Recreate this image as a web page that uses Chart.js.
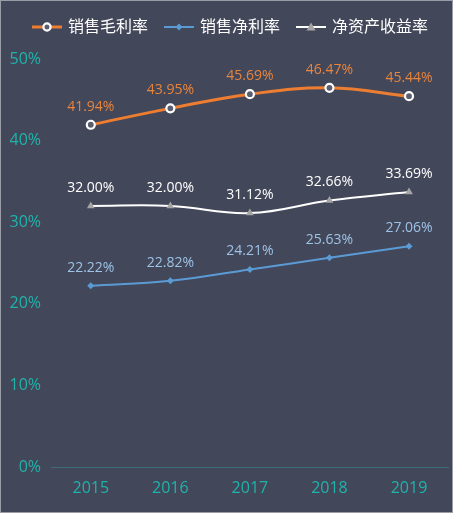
<!DOCTYPE html>
<html><head><meta charset="utf-8">
<script src="https://cdn.jsdelivr.net/npm/chart.js@4"></script>
<style>html,body{margin:0;padding:0;background:#fff;}#wrap{width:455px;height:522px;}</style>
</head><body><div id="wrap"><canvas id="c" width="455" height="522"></canvas></div>
<script>
const categories = ['2015','2016','2017','2018','2019'];
const grossMargin = [41.94, 43.95, 45.69, 46.47, 45.44];
const netMargin = [22.22, 22.82, 24.21, 25.63, 27.06];
const roe = [32.00, 32.00, 31.12, 32.66, 33.69];
const seriesNames = ['销售毛利率','销售净利率','净资产收益率'];
const yTicks = [0,10,20,30,40,50];

const BG = '#43475a';
const TEAL = '#1fb3aa';
const FONT = "'Open Sans','Noto Sans CJK SC',sans-serif";

function legendIcon(color, kind){
  const c = document.createElement('canvas'); c.width = 48; c.height = 12;
  const x = c.getContext('2d');
  const x0 = 14, x1 = 44, cx = 29;
  x.strokeStyle = color; x.lineWidth = kind==='circle'?3:2;
  x.beginPath(); x.moveTo(x0,6); x.lineTo(x1,6); x.stroke();
  if(kind==='circle'){ x.fillStyle='#5a5d6e'; x.strokeStyle='#fff'; x.lineWidth=2.2; x.beginPath(); x.arc(cx,6,3.6,0,Math.PI*2); x.fill(); x.stroke(); }
  if(kind==='diamond'){ x.fillStyle='#5b9bd5'; x.beginPath(); x.moveTo(cx,2.5); x.lineTo(cx+3.5,6); x.lineTo(cx,9.5); x.lineTo(cx-3.5,6); x.closePath(); x.fill(); }
  if(kind==='tri'){ x.fillStyle='#a5a5a5'; x.beginPath(); x.moveTo(cx,1.5); x.lineTo(cx+4.5,9.5); x.lineTo(cx-4.5,9.5); x.closePath(); x.fill(); }
  return c;
}
const icons = [legendIcon('#ed7d31','circle'), legendIcon('#5b9bd5','diamond'), legendIcon('#ffffff','tri')];
const labelColors = ['#e8853d','#9dc3e6','#ffffff'];

const bgPlugin = {
  id:'bg',
  beforeUpdate(chart){
    const lg = chart.legend;
    if(lg && !lg._patched){
      const orig = lg.fit.bind(lg);
      lg.fit = function(){ orig(); this.height = 48; };
      lg._patched = true;
    }
  },
  beforeDraw(chart){
    const ctx = chart.ctx; ctx.save();
    ctx.fillStyle = BG; ctx.fillRect(0,0,453,513);
    ctx.strokeStyle = '#9a9ca6'; ctx.lineWidth = 1; ctx.strokeRect(0.5,0.5,452,512);
    ctx.restore();
  }
};
const labelPlugin = {
  id:'vals',
  afterDatasetsDraw(chart){
    const ctx = chart.ctx; ctx.save();
    ctx.font = '14px ' + FONT; ctx.textAlign='center'; ctx.textBaseline='bottom';
    chart.data.datasets.forEach((ds,i)=>{
      const meta = chart.getDatasetMeta(i);
      ctx.fillStyle = labelColors[i];
      meta.data.forEach((pt,j)=>{
        ctx.fillText(ds.data[j].toFixed(2)+'%', pt.x, pt.y - 11);
      });
    });
    ctx.restore();
  }
};

new Chart(document.getElementById('c'), {
  type:'line',
  data:{
    labels: categories,
    datasets:[
      {label:seriesNames[0], data:grossMargin, borderColor:'#ed7d31', borderWidth:3, tension:0.4,
       pointStyle:'circle', pointRadius:4, pointBorderWidth:2.2, pointBorderColor:'#ffffff', pointBackgroundColor:'#5a5d6e'},
      {label:seriesNames[1], data:netMargin, borderColor:'#5b9bd5', borderWidth:2, tension:0.4,
       pointStyle:'rectRot', pointRadius:3.5, pointBorderWidth:0, pointBackgroundColor:'#5b9bd5'},
      {label:seriesNames[2], data:roe, borderColor:'#ffffff', borderWidth:2, tension:0.4,
       pointStyle:'triangle', pointRadius:4.5, pointBorderWidth:0, pointBackgroundColor:'#a5a5a5'}
    ]
  },
  options:{
    responsive:false, animation:false,
    layout:{padding:{top:11,right:3,bottom:9,left:0}},
    plugins:{
      tooltip:{enabled:false},
      legend:{position:'top', labels:{
        usePointStyle:true, pointStyleWidth:36, padding:8, color:'#ffffff',
        font:{size:16, family:FONT},
        generateLabels(chart){
          return chart.data.datasets.map((ds,i)=>({text:ds.label, pointStyle:icons[i], fillStyle:'transparent', strokeStyle:'transparent', lineWidth:0, fontColor:'#ffffff', datasetIndex:i, hidden:false}));
        }
      }}
    },
    scales:{
      x:{offset:true, grid:{display:false, drawTicks:false}, border:{display:true,color:'#3f6b78',width:1},
         ticks:{color:TEAL, font:{size:16,family:FONT}, padding:12},
         afterFit(s){ s.height = 46; }},
      y:{min:0, max:50, afterBuildTicks(s){ s.ticks = yTicks.map(v=>({value:v})); },
         grid:{display:false, drawTicks:false}, border:{display:false},
         ticks:{color:TEAL, font:{size:16,family:FONT}, padding:10, callback:v=>v+'%'},
         afterFit(s){ s.width = 51; }}
    }
  },
  plugins:[bgPlugin,labelPlugin]
});
</script></body></html>
